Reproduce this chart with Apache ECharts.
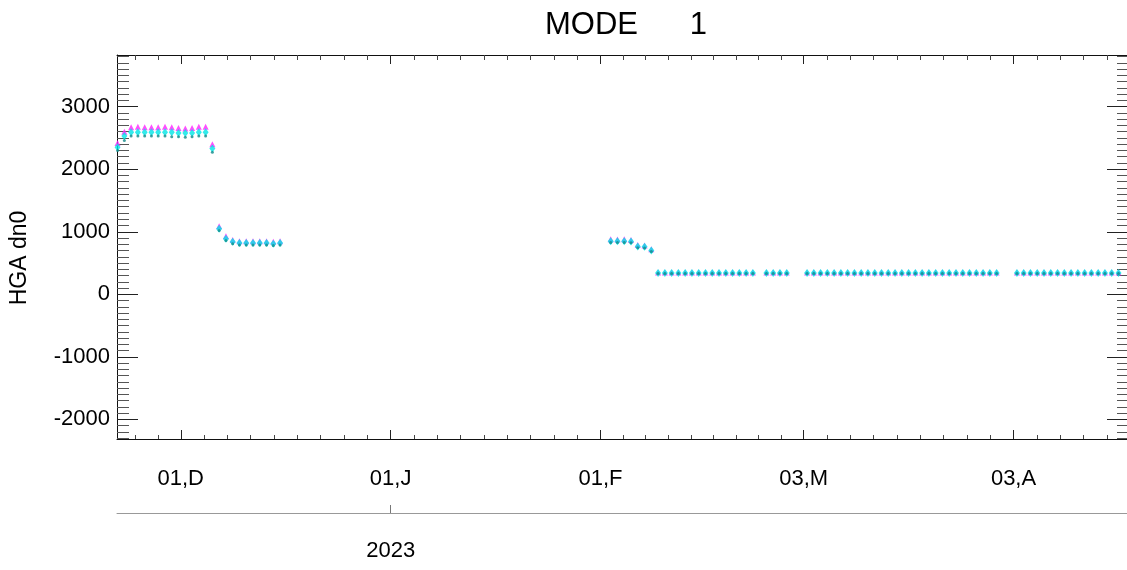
<!DOCTYPE html>
<html><head><meta charset="utf-8">
<script src="https://cdn.jsdelivr.net/npm/echarts@6/dist/echarts.min.js"></script>
<style>html,body{margin:0;padding:0;background:#fff}#c{width:1127px;height:570px}</style>
</head><body><div id="c"></div>
<script>
// ---------- data ----------
const chartTitle = 'MODE      1';
const yAxisName = 'HGA dn0';
const tickDates = ['2022-12-01', '2023-01-01', '2023-02-01', '2023-03-03', '2023-04-03'];
const tickLabels = ['01,D', '01,J', '01,F', '03,M', '03,A'];
const minorBoundDates = ['2022-11-01', '2022-12-01', '2023-01-01', '2023-02-01', '2023-03-03', '2023-04-03', '2023-05-04'];
const yearTickDate = '2023-01-01';
const yearLabel = '2023';
const yTickValues = [-2000, -1000, 0, 1000, 2000, 3000];

const times = [
  '2022-11-21T16:00','2022-11-22T16:00','2022-11-23T16:00','2022-11-24T16:00','2022-11-25T16:00',
  '2022-11-26T16:00','2022-11-27T16:00','2022-11-28T16:00','2022-11-29T16:00','2022-11-30T16:00',
  '2022-12-01T16:00','2022-12-02T16:00','2022-12-03T16:00','2022-12-04T16:00','2022-12-05T16:00',
  '2022-12-06T16:00','2022-12-07T16:00','2022-12-08T16:00','2022-12-09T16:00','2022-12-10T16:00',
  '2022-12-11T16:00','2022-12-12T16:00','2022-12-13T16:00','2022-12-14T16:00','2022-12-15T16:00',
  '2023-02-02T12:00','2023-02-03T12:00','2023-02-04T12:00','2023-02-05T12:00','2023-02-06T12:00',
  '2023-02-07T12:00','2023-02-08T12:00',
  '2023-02-09T12:00','2023-02-10T12:00','2023-02-11T12:00','2023-02-12T12:00','2023-02-13T12:00',
  '2023-02-14T12:00','2023-02-15T12:00','2023-02-16T12:00','2023-02-17T12:00','2023-02-18T12:00',
  '2023-02-19T12:00','2023-02-20T12:00','2023-02-21T12:00','2023-02-22T12:00','2023-02-23T12:00',
  '2023-02-25T12:00','2023-02-26T12:00','2023-02-27T12:00','2023-02-28T12:00',
  '2023-03-03T12:00','2023-03-04T12:00','2023-03-05T12:00','2023-03-06T12:00','2023-03-07T12:00',
  '2023-03-08T12:00','2023-03-09T12:00','2023-03-10T12:00','2023-03-11T12:00','2023-03-12T12:00',
  '2023-03-13T12:00','2023-03-14T12:00','2023-03-15T12:00','2023-03-16T12:00','2023-03-17T12:00',
  '2023-03-18T12:00','2023-03-19T12:00','2023-03-20T12:00','2023-03-21T12:00','2023-03-22T12:00',
  '2023-03-23T12:00','2023-03-24T12:00','2023-03-25T12:00','2023-03-26T12:00','2023-03-27T12:00',
  '2023-03-28T12:00','2023-03-29T12:00','2023-03-30T12:00','2023-03-31T12:00',
  '2023-04-03T12:00','2023-04-04T12:00','2023-04-05T12:00','2023-04-06T12:00','2023-04-07T12:00',
  '2023-04-08T12:00','2023-04-09T12:00','2023-04-10T12:00','2023-04-11T12:00','2023-04-12T12:00',
  '2023-04-13T12:00','2023-04-14T12:00','2023-04-15T12:00','2023-04-16T12:00','2023-04-17T12:00',
  '2023-04-18T12:00'
];
const magentaValues = [
  2420, 2600, 2670, 2680, 2670, 2670, 2670, 2680, 2670, 2660,
  2650, 2660, 2680, 2680, 2400, 1090, 930, 870, 850, 850,
  850, 850, 850, 840, 850,
  880, 875, 880, 870, 790, 780, 720,
  350, 350, 350, 350, 350, 350, 350, 350, 350, 350, 350, 350, 350, 350, 350,
  350, 350, 350, 350,
  350, 350, 350, 350, 350, 350, 350, 350, 350, 350, 350, 350, 350, 350, 350,
  350, 350, 350, 350, 350, 350, 350, 350, 350, 350, 350, 350, 350, 350,
  350, 350, 350, 350, 350, 350, 350, 350, 350, 350, 350, 350, 350, 350, 350, 350
];
const cyanValues = [
  2350, 2530, 2590, 2590, 2590, 2590, 2590, 2590, 2590, 2580,
  2580, 2580, 2590, 2590, 2330, 1050, 890, 840, 820, 820,
  820, 820, 820, 810, 820,
  850, 850, 850, 845, 765, 760, 700,
  340, 340, 340, 340, 340, 340, 340, 340, 340, 340, 340, 340, 340, 340, 340,
  340, 340, 340, 340,
  340, 340, 340, 340, 340, 340, 340, 340, 340, 340, 340, 340, 340, 340, 340,
  340, 340, 340, 340, 340, 340, 340, 340, 340, 340, 340, 340, 340, 340,
  340, 340, 340, 340, 340, 340, 340, 340, 340, 340, 340, 340, 340, 340, 340, 340
];
const tealValues = [
  2300, 2460, 2530, 2530, 2530, 2530, 2530, 2530, 2520, 2520,
  2510, 2520, 2530, 2530, 2270, 1020, 860, 810, 790, 790,
  790, 790, 790, 780, 790,
  830, 830, 830, 825, 745, 740, 685,
  333, 333, 333, 333, 333, 333, 333, 333, 333, 333, 333, 333, 333, 333, 333,
  333, 333, 333, 333,
  333, 333, 333, 333, 333, 333, 333, 333, 333, 333, 333, 333, 333, 333, 333,
  333, 333, 333, 333, 333, 333, 333, 333, 333, 333, 333, 333, 333, 333,
  333, 333, 333, 333, 333, 333, 333, 333, 333, 333, 333, 333, 333, 333, 333, 333
];

// ---------- helpers ----------
const BASE = Date.parse('2022-12-01T00:00:00Z');
function dayOf(s) {
  const iso = s.length === 10 ? s + 'T00:00' : s;
  return (Date.parse(iso + ':00Z') - BASE) / 86400000;
}
const XMIN = -9.42, XMAX = 139.76;
const YMIN = -2313, YMAX = 3826;

const majorX = tickDates.map(dayOf);
const labelByDay = {};
majorX.forEach((d, i) => { labelByDay[Math.round(d)] = tickLabels[i]; });
const minorX = [];
for (let i = 0; i < minorBoundDates.length - 1; i++) {
  const a = dayOf(minorBoundDates[i]), b = dayOf(minorBoundDates[i + 1]);
  for (let k = 1; k < 9; k++) {
    const v = a + (b - a) * k / 9;
    if (v > XMIN && v < XMAX) minorX.push(v);
  }
}
const minorY = [];
for (let v = -2300; v <= 3800; v += 100) if (v % 1000 !== 0) minorY.push(v);
const yearX = dayOf(yearTickDate);

const FONT = "'Liberation Sans', Arial, sans-serif";
const xs = times.map(dayOf);
const pts = vals => xs.map((x, i) => [x, vals[i]]);

function xAx(opts) {
  return Object.assign({
    type: 'value', min: XMIN, max: XMAX, gridIndex: 0,
    splitLine: { show: false },
    axisLine: { show: false, onZero: false },
    axisLabel: { show: false },
    axisTick: { show: false }
  }, opts);
}
function yAx(opts) {
  return Object.assign({
    type: 'value', min: YMIN, max: YMAX, gridIndex: 0,
    splitLine: { show: false },
    axisLine: { show: false, onZero: false },
    axisLabel: { show: false },
    axisTick: { show: false }
  }, opts);
}

const option = {
  animation: false,
  backgroundColor: '#ffffff',
  title: {
    text: chartTitle, left: 621, top: 5, textAlign: 'center',
    textStyle: { fontFamily: FONT, fontSize: 31, fontWeight: 'normal', color: '#000' }
  },
  grid: { left: 115, top: 55, width: 1014, height: 384, containLabel: false },
  xAxis: [
    xAx({ position: 'bottom',
      axisLine: { show: true, onZero: false, lineStyle: { color: '#111', width: 1 } },
      axisTick: { show: true, inside: true, length: 9, customValues: majorX, lineStyle: { color: '#222' } },
      axisLabel: { show: true, customValues: majorX, margin: 29, fontFamily: FONT, fontSize: 22, color: '#000',
        formatter: v => labelByDay[Math.round(v)] || '' } }),
    xAx({ position: 'bottom',
      axisTick: { show: true, inside: true, length: 4, customValues: minorX, lineStyle: { color: '#444' } } }),
    xAx({ position: 'top',
      axisLine: { show: true, onZero: false, lineStyle: { color: '#111', width: 1 } },
      axisTick: { show: true, inside: true, length: 9, customValues: majorX, lineStyle: { color: '#222' } } }),
    xAx({ position: 'top',
      axisTick: { show: true, inside: true, length: 5, customValues: minorX, lineStyle: { color: '#444' } } }),
    xAx({ position: 'bottom', offset: 74,
      axisLine: { show: true, onZero: false, lineStyle: { color: '#999', width: 1 } },
      axisTick: { show: true, inside: true, length: 8, customValues: [yearX], lineStyle: { color: '#777' } },
      axisLabel: { show: true, customValues: [yearX], margin: 27, fontFamily: FONT, fontSize: 22, color: '#000',
        formatter: () => yearLabel } })
  ],
  yAxis: [
    yAx({ position: 'left',
      name: yAxisName, nameLocation: 'middle', nameGap: 86,
      nameTextStyle: { fontFamily: FONT, fontSize: 23, color: '#000', padding: [0, 22, 0, 0] },
      axisLine: { show: true, onZero: false, lineStyle: { color: '#111', width: 1 } },
      axisTick: { show: true, inside: true, length: 21, customValues: yTickValues, lineStyle: { color: '#222' } },
      axisLabel: { show: true, customValues: yTickValues, margin: 7, fontFamily: FONT, fontSize: 22, color: '#000',
        formatter: v => String(v) } }),
    yAx({ position: 'left',
      axisTick: { show: true, inside: true, length: 12, customValues: minorY, lineStyle: { color: '#555' } } }),
    yAx({ position: 'right',
      axisLine: { show: true, onZero: false, lineStyle: { color: '#111', width: 1 } },
      axisTick: { show: true, inside: true, length: 20, customValues: yTickValues, lineStyle: { color: '#222' } } }),
    yAx({ position: 'right',
      axisTick: { show: true, inside: true, length: 10, customValues: minorY, lineStyle: { color: '#555' } } })
  ],
  series: [
    { name: 'magenta', type: 'scatter', xAxisIndex: 0, yAxisIndex: 0, data: pts(magentaValues),
      symbol: 'triangle', symbolSize: [6, 6], itemStyle: { color: '#ff22ff' }, silent: true },
    { name: 'cyan', type: 'scatter', xAxisIndex: 0, yAxisIndex: 0, data: pts(cyanValues),
      symbol: 'diamond', symbolSize: [6, 8], itemStyle: { color: '#00e6e6' }, silent: true },
    { name: 'teal', type: 'scatter', xAxisIndex: 0, yAxisIndex: 0, data: pts(tealValues),
      symbol: 'circle', symbolSize: 3, itemStyle: { color: '#138a8a' }, silent: true }
  ]
};
const chart = echarts.init(document.getElementById('c'), null, { renderer: 'canvas' });
chart.setOption(option);
</script>
</body></html>
